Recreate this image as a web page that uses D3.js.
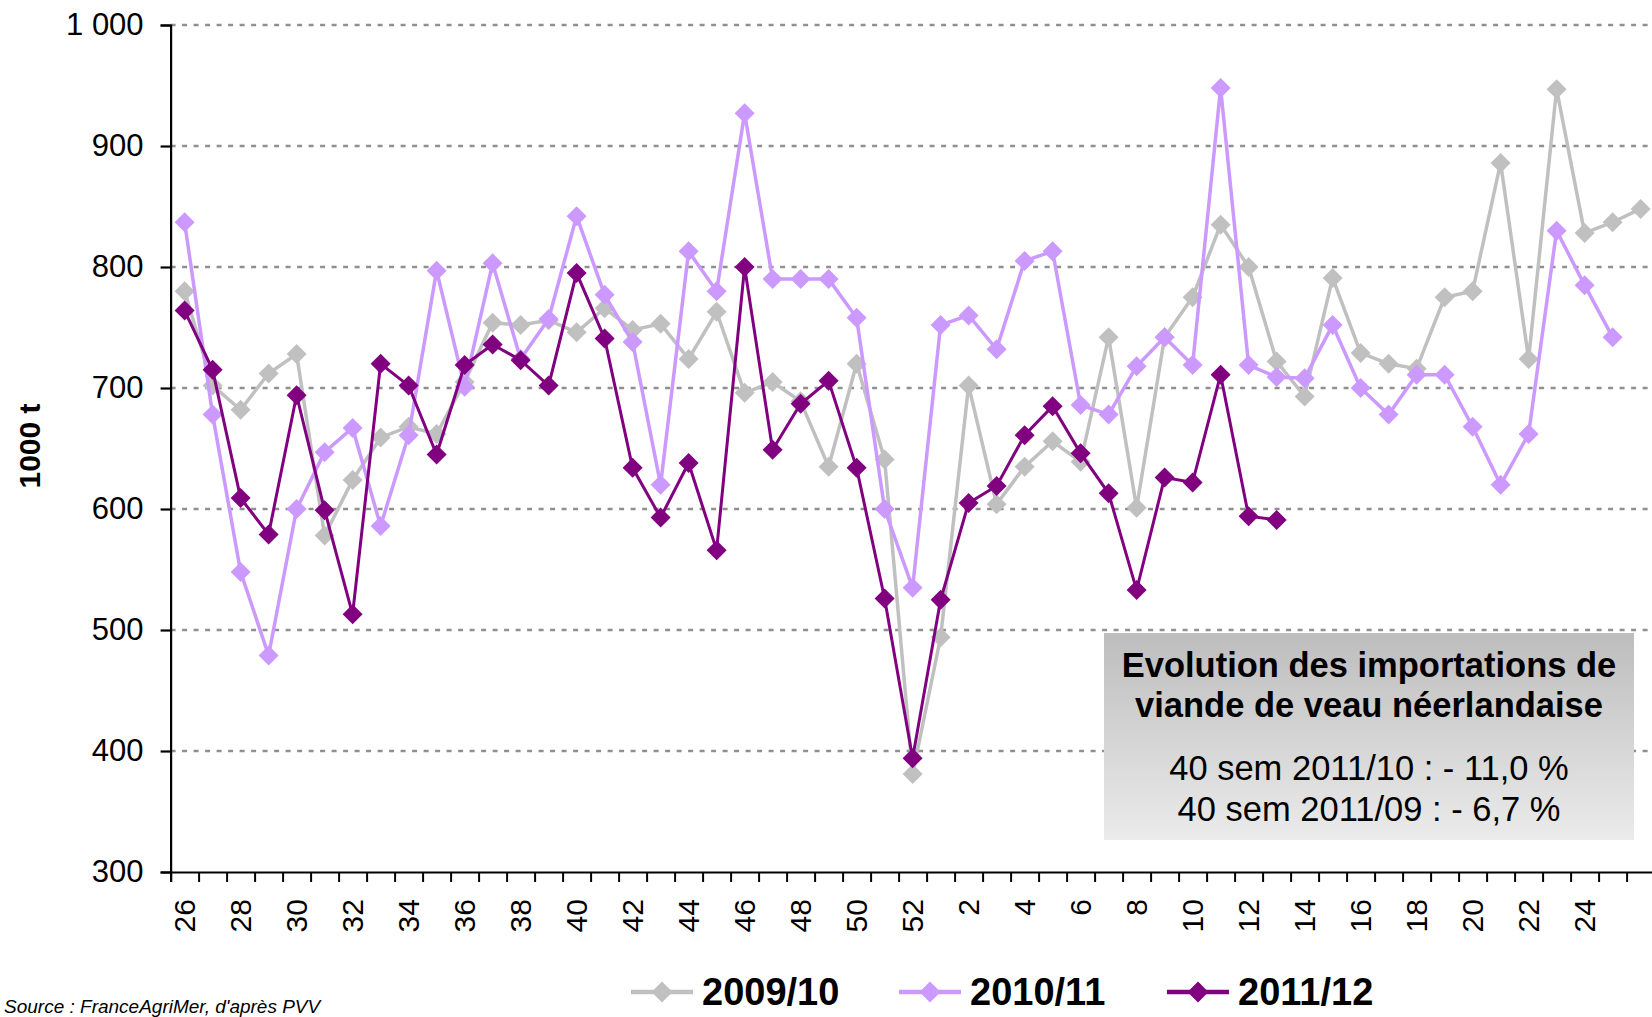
<!DOCTYPE html>
<html>
<head>
<meta charset="utf-8">
<script src="https://cdn.jsdelivr.net/npm/d3@7"></script>
<style>
  html, body { margin: 0; padding: 0; background: #fff; }
  svg { display: block; font-family: "Liberation Sans", Arial, sans-serif; }
</style>
</head>
<body>
<svg id="chart" width="1652" height="1017"></svg>
<script>
// ---- DATA ----
const weeks = ["26","27","28","29","30","31","32","33","34","35","36","37","38","39","40","41","42","43","44","45","46","47","48","49","50","51","52",
               "1","2","3","4","5","6","7","8","9","10","11","12","13","14","15","16","17","18","19","20","21","22","23","24","25","26"];
const seriesNames = ["2009/10", "2010/11", "2011/12"];
const s2009 = [780,702,682,712,728,578,624,659,668,662,705,754,752,756,746,766,748,753,724,763,696,705,689,635,720,641,381,
               494,702,604,635,656,639,742,601,742,775,835,800,722,693,791,729,720,716,775,780,886,724,947,828,837,848];
const s2010 = [837,678,548,479,600,647,667,586,661,797,701,803,724,757,842,777,738,620,813,780,927,790,790,790,758,600,535,
               752,760,732,805,813,686,678,718,742,719,948,719,709,708,752,700,678,711,711,668,620,662,830,785,742,null];
const s2011 = [764,715,609,579,694,599,513,720,702,645,719,736,723,702,795,741,634,593,638,566,800,649,687,706,634,526,394,
               525,605,619,661,685,646,613,533,626,622,711,594,591,null,null,null,null,null,null,null,null,null,null,null,null,null];
const yTicks = [300,400,500,600,700,800,900,1000];
const boxTitle = ["Evolution des importations de", "viande de veau néerlandaise"];
const boxLines = ["40 sem 2011/10 : - 11,0 %", "40 sem 2011/09 : - 6,7 %"];
const yTitle = "1000 t";
const sourceText = "Source : FranceAgriMer, d'après PVV";

// ---- STYLE ----
const colors = ["#C0C0C0", "#CC99FF", "#800080"];
const widths = [3.5, 3.5, 3];

const svg = d3.select("#chart");
const W = 1652, H = 1017;
const x0 = 170.6, bandW = 28;
const x1 = x0 + bandW * weeks.length;
const yTop = 25, yBot = 872;

const idx = weeks.map((d, i) => i);
const x = d3.scaleBand().domain(idx).range([x0, x1]).padding(0);
const xLin = d3.scaleLinear().domain([0, weeks.length]).range([x0, x1]);
const y = d3.scaleLinear().domain([300, 1000]).range([yBot, yTop]);
const cx = i => x(i) + x.bandwidth() / 2;

// gridlines
svg.append("g").selectAll("line").data(yTicks.filter(v => v > 300)).join("line")
  .attr("x1", x0).attr("x2", W).attr("y1", d => y(d)).attr("y2", d => y(d))
  .attr("stroke", "#909090").attr("stroke-width", 2.5).attr("stroke-dasharray", "5,6.5");

// y axis
const yAxis = svg.append("g").attr("transform", `translate(${x0},0)`)
  .call(d3.axisLeft(y).tickValues(yTicks).tickSize(10).tickPadding(17)
        .tickFormat(d => d === 1000 ? "1 000" : String(d)));
yAxis.select(".domain").attr("stroke", "#000").attr("stroke-width", 2.2);
yAxis.selectAll(".tick line").attr("stroke", "#000").attr("stroke-width", 2.2);
yAxis.selectAll(".tick text").attr("font-size", 31).attr("fill", "#000")
  .attr("font-family", "Liberation Sans, Arial, sans-serif");

// x axis ticks (boundaries)
const xAxisTicks = svg.append("g").attr("transform", `translate(0,${yBot})`)
  .call(d3.axisBottom(xLin).tickValues(d3.range(0, weeks.length + 1)).tickSize(10).tickFormat(""));
xAxisTicks.select(".domain").attr("stroke", "#000").attr("stroke-width", 2.2);
xAxisTicks.selectAll(".tick line").attr("stroke", "#000").attr("stroke-width", 2);

// x axis labels (every other week)
const labelIdx = idx.filter(i => i % 2 === 0 && i < weeks.length - 1);
const xAxisLab = svg.append("g").attr("transform", `translate(0,${yBot})`)
  .call(d3.axisBottom(x).tickValues(labelIdx).tickSize(0).tickFormat(i => weeks[i]));
xAxisLab.select(".domain").remove();
xAxisLab.selectAll(".tick text")
  .attr("font-size", 30).attr("fill", "#000")
  .attr("font-family", "Liberation Sans, Arial, sans-serif")
  .attr("transform", "rotate(-90)")
  .attr("text-anchor", "end")
  .attr("x", -27).attr("y", 0).attr("dy", "0.35em");

// y title
svg.append("text").attr("transform", "translate(29,446) rotate(-90)")
  .attr("text-anchor", "middle").attr("dy", "0.35em")
  .attr("font-size", 30).attr("font-weight", "bold").text(yTitle);

// annotation box
const defs = svg.append("defs");
const grad = defs.append("linearGradient").attr("id", "boxgrad").attr("x1", 0).attr("y1", 0).attr("x2", 0).attr("y2", 1);
grad.append("stop").attr("offset", "0%").attr("stop-color", "#bdbdbd");
grad.append("stop").attr("offset", "100%").attr("stop-color", "#ebebeb");
svg.append("rect").attr("x", 1104).attr("y", 633).attr("width", 530).attr("height", 207).attr("fill", "url(#boxgrad)");
svg.append("g").selectAll("text").data(boxTitle).join("text")
  .attr("x", 1369).attr("y", (d, i) => 677 + i * 40).attr("text-anchor", "middle")
  .attr("font-size", 34.5).attr("font-weight", "bold").attr("fill", "#000").text(d => d);
svg.append("g").selectAll("text").data(boxLines).join("text")
  .attr("x", 1369).attr("y", (d, i) => 780 + i * 41).attr("text-anchor", "middle")
  .attr("font-size", 34.5).attr("fill", "#000").text(d => d);

// series
const allSeries = [s2009, s2010, s2011];
const diamond = r => `M0,${-r}L${r},0L0,${r}L${-r},0Z`;
const line = d3.line().defined(d => d.v != null).x(d => cx(d.i)).y(d => y(d.v));
allSeries.forEach((s, k) => {
  const pts = s.map((v, i) => ({ i, v }));
  const g = svg.append("g");
  g.append("path").datum(pts).attr("d", line).attr("fill", "none")
    .attr("stroke", colors[k]).attr("stroke-width", widths[k]).attr("stroke-linejoin", "miter");
  g.selectAll("path.m").data(pts.filter(d => d.v != null)).join("path").attr("class", "m")
    .attr("d", diamond(10)).attr("transform", d => `translate(${cx(d.i)},${y(d.v)})`)
    .attr("fill", colors[k]);
});

// legend
const legX = [631, 899, 1167];
const legY = 992;
seriesNames.forEach((n, k) => {
  const g = svg.append("g").attr("transform", `translate(${legX[k]},${legY})`);
  g.append("line").attr("x1", 0).attr("x2", 62).attr("y1", 0).attr("y2", 0)
    .attr("stroke", colors[k]).attr("stroke-width", 4.5);
  g.append("path").attr("d", diamond(10.5)).attr("transform", "translate(31,0)").attr("fill", colors[k]);
  g.append("text").attr("x", 71).attr("y", 13).attr("font-size", 38).attr("font-weight", "bold")
    .attr("fill", "#000").text(n);
});

// source
svg.append("text").attr("x", 4).attr("y", 1013)
  .attr("font-size", 19).attr("font-style", "italic").attr("fill", "#000").text(sourceText);
</script>
</body>
</html>
